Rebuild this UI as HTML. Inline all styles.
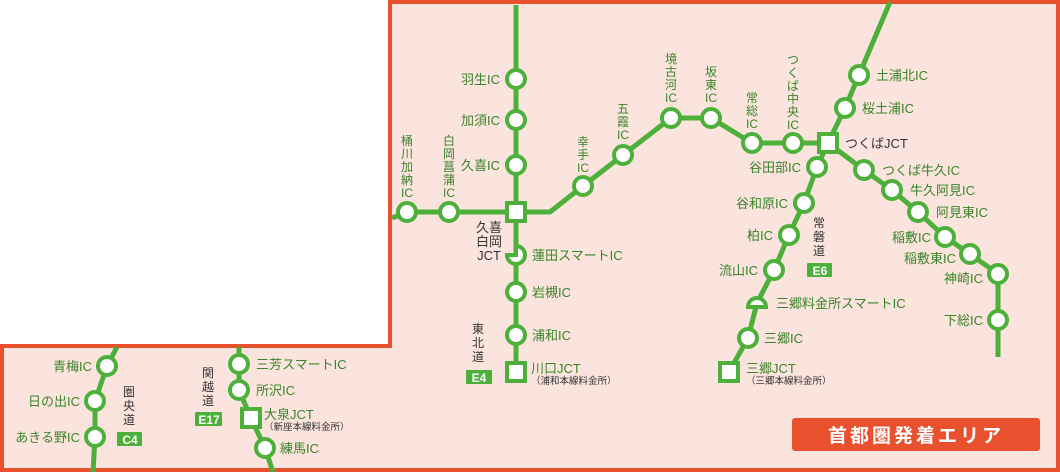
<!DOCTYPE html>
<html><head><meta charset="utf-8"><style>
html,body{margin:0;padding:0;background:#fff;}
svg{display:block;}
text{font-family:"Liberation Sans","Noto Sans CJK JP",sans-serif;}
.g{fill:#3a8429;font-size:13px;}
.d{fill:#333;font-size:13px;}
.v{font-size:12px;}
.s{fill:#333;font-size:9.5px;}
.b{fill:#fff;font-size:12px;font-weight:bold;}
</style></head><body>
<svg width="1060" height="472" viewBox="0 0 1060 472" xmlns="http://www.w3.org/2000/svg">
<path d="M390,2 H1058 V470 H2 V346 H390 Z" fill="#fbe4de" stroke="#e8502e" stroke-width="4"/>
<g fill="none" stroke="#4cb03a" stroke-width="5" stroke-linejoin="round">
<polyline points="516,5 516,372"/>
<polyline points="392,218 407,212 550,212 583,186 623,155 671,118 711,118 752,143 828,143"/>
<polyline points="890,2 859,75 845,108 828,143 817,167 804,203 789,235 774,270 757,303 748,338 729,372"/>
<polyline points="828,143 864,170 892,190 918,212 945,237 970,254 998,274 998,357"/>
<polyline points="117,347 107,366 95,401 95,437 93,472"/>
<polyline points="239,347 239,364 239,390 251,418 265,448 273,472"/>
</g>
<g fill="#fff" stroke="#4cb03a" stroke-width="4">
<circle cx="516" cy="79" r="9"/><circle cx="516" cy="120" r="9"/><circle cx="516" cy="165" r="9"/>
<circle cx="516" cy="292" r="9"/><circle cx="516" cy="335" r="9"/>
<circle cx="407" cy="212" r="9"/><circle cx="449" cy="212" r="9"/>
<circle cx="583" cy="186" r="9"/><circle cx="623" cy="155" r="9"/><circle cx="671" cy="118" r="9"/><circle cx="711" cy="118" r="9"/>
<circle cx="752" cy="143" r="9"/><circle cx="793" cy="143" r="9"/>
<circle cx="859" cy="75" r="9"/><circle cx="845" cy="108" r="9"/>
<circle cx="817" cy="167" r="9"/><circle cx="804" cy="203" r="9"/><circle cx="789" cy="235" r="9"/><circle cx="774" cy="270" r="9"/><circle cx="748" cy="338" r="9"/>
<circle cx="864" cy="170" r="9"/><circle cx="892" cy="190" r="9"/><circle cx="918" cy="212" r="9"/><circle cx="945" cy="237" r="9"/><circle cx="970" cy="254" r="9"/><circle cx="998" cy="274" r="9"/><circle cx="998" cy="320" r="9"/>
<circle cx="107" cy="366" r="9"/><circle cx="95" cy="401" r="9"/><circle cx="95" cy="437" r="9"/>
<circle cx="239" cy="364" r="9"/><circle cx="239" cy="390" r="9"/><circle cx="265" cy="448" r="9"/>
<rect x="507" y="203" width="18" height="18"/><rect x="507" y="363" width="18" height="18"/>
<rect x="819" y="134" width="18" height="18"/><rect x="720" y="363" width="18" height="18"/>
<rect x="242" y="409" width="18" height="18"/>
<path d="M516,246 A9,9 0 1 1 507,255 H516 Z"/>
<path d="M748,307 A9,9 0 0 1 766,307 Z"/>
</g>
<g class="g">
<text x="500" y="84" text-anchor="end">羽生IC</text>
<text x="500" y="125" text-anchor="end">加須IC</text>
<text x="500" y="170" text-anchor="end">久喜IC</text>
<text x="532" y="260">蓮田スマートIC</text>
<text x="532" y="297">岩槻IC</text>
<text x="532" y="340">浦和IC</text>
<text x="531" y="373">川口JCT</text>
<text x="876" y="80">土浦北IC</text>
<text x="862" y="113">桜土浦IC</text>
<text x="801" y="172" text-anchor="end">谷田部IC</text>
<text x="788" y="208" text-anchor="end">谷和原IC</text>
<text x="773" y="240" text-anchor="end">柏IC</text>
<text x="758" y="275" text-anchor="end">流山IC</text>
<text x="776" y="308">三郷料金所スマートIC</text>
<text x="764" y="343">三郷IC</text>
<text x="746" y="373">三郷JCT</text>
<text x="882" y="175">つくば牛久IC</text>
<text x="910" y="195">牛久阿見IC</text>
<text x="936" y="217">阿見東IC</text>
<text x="931" y="242" text-anchor="end">稲敷IC</text>
<text x="956" y="263" text-anchor="end">稲敷東IC</text>
<text x="983" y="283" text-anchor="end">神崎IC</text>
<text x="983" y="325" text-anchor="end">下総IC</text>
<text x="92" y="371" text-anchor="end">青梅IC</text>
<text x="80" y="406" text-anchor="end">日の出IC</text>
<text x="80" y="442" text-anchor="end">あきる野IC</text>
<text x="256" y="369">三芳スマートIC</text>
<text x="256" y="395">所沢IC</text>
<text x="264" y="419">大泉JCT</text>
<text x="280" y="453">練馬IC</text>
</g>
<g class="g v" text-anchor="middle">
<text><tspan x="407" y="145">桶</tspan><tspan x="407" dy="13">川</tspan><tspan x="407" dy="13">加</tspan><tspan x="407" dy="13">納</tspan><tspan x="407" dy="13">IC</tspan></text>
<text><tspan x="449" y="145">白</tspan><tspan x="449" dy="13">岡</tspan><tspan x="449" dy="13">菖</tspan><tspan x="449" dy="13">蒲</tspan><tspan x="449" dy="13">IC</tspan></text>
<text><tspan x="583" y="146">幸</tspan><tspan x="583" dy="13">手</tspan><tspan x="583" dy="13">IC</tspan></text>
<text><tspan x="623" y="113">五</tspan><tspan x="623" dy="13">霞</tspan><tspan x="623" dy="13">IC</tspan></text>
<text><tspan x="671" y="63">境</tspan><tspan x="671" dy="13">古</tspan><tspan x="671" dy="13">河</tspan><tspan x="671" dy="13">IC</tspan></text>
<text><tspan x="711" y="76">坂</tspan><tspan x="711" dy="13">東</tspan><tspan x="711" dy="13">IC</tspan></text>
<text><tspan x="752" y="102">常</tspan><tspan x="752" dy="13">総</tspan><tspan x="752" dy="13">IC</tspan></text>
<text><tspan x="793" y="64">つ</tspan><tspan x="793" dy="13">く</tspan><tspan x="793" dy="13">ば</tspan><tspan x="793" dy="13">中</tspan><tspan x="793" dy="13">央</tspan><tspan x="793" dy="13">IC</tspan></text>
</g>
<g class="d">
<text x="845" y="148">つくばJCT</text>
<text x="489" y="232" text-anchor="middle">久喜</text>
<text x="489" y="246" text-anchor="middle">白岡</text>
<text x="489" y="260" text-anchor="middle">JCT</text>
</g>
<g class="d v" text-anchor="middle">
<text><tspan x="478" y="333">東</tspan><tspan x="478" dy="14">北</tspan><tspan x="478" dy="14">道</tspan></text>
<text><tspan x="819" y="227">常</tspan><tspan x="819" dy="14">磐</tspan><tspan x="819" dy="14">道</tspan></text>
<text><tspan x="129" y="396">圏</tspan><tspan x="129" dy="14">央</tspan><tspan x="129" dy="14">道</tspan></text>
<text><tspan x="208" y="377">関</tspan><tspan x="208" dy="14">越</tspan><tspan x="208" dy="14">道</tspan></text>
</g>
<g class="s">
<text x="531" y="384">（浦和本線料金所）</text>
<text x="746" y="384">（三郷本線料金所）</text>
<text x="264" y="430">（新座本線料金所）</text>
</g>
<g fill="#4cb03a">
<rect x="466" y="370" width="26" height="14" rx="1"/>
<rect x="807" y="263" width="25" height="14" rx="1"/>
<rect x="117" y="432" width="25" height="14" rx="1"/>
<rect x="195" y="412" width="27" height="14" rx="1"/>
</g>
<g class="b" text-anchor="middle">
<text x="479" y="382">E4</text>
<text x="820" y="275">E6</text>
<text x="130" y="444">C4</text>
<text x="209" y="424">E17</text>
</g>
<rect x="792" y="418" width="248" height="33" rx="3" fill="#e8502e"/>
<text x="916" y="442" text-anchor="middle" fill="#fff" font-size="19" font-weight="bold" letter-spacing="3">首都圏発着エリア</text>
</svg>
</body></html>
